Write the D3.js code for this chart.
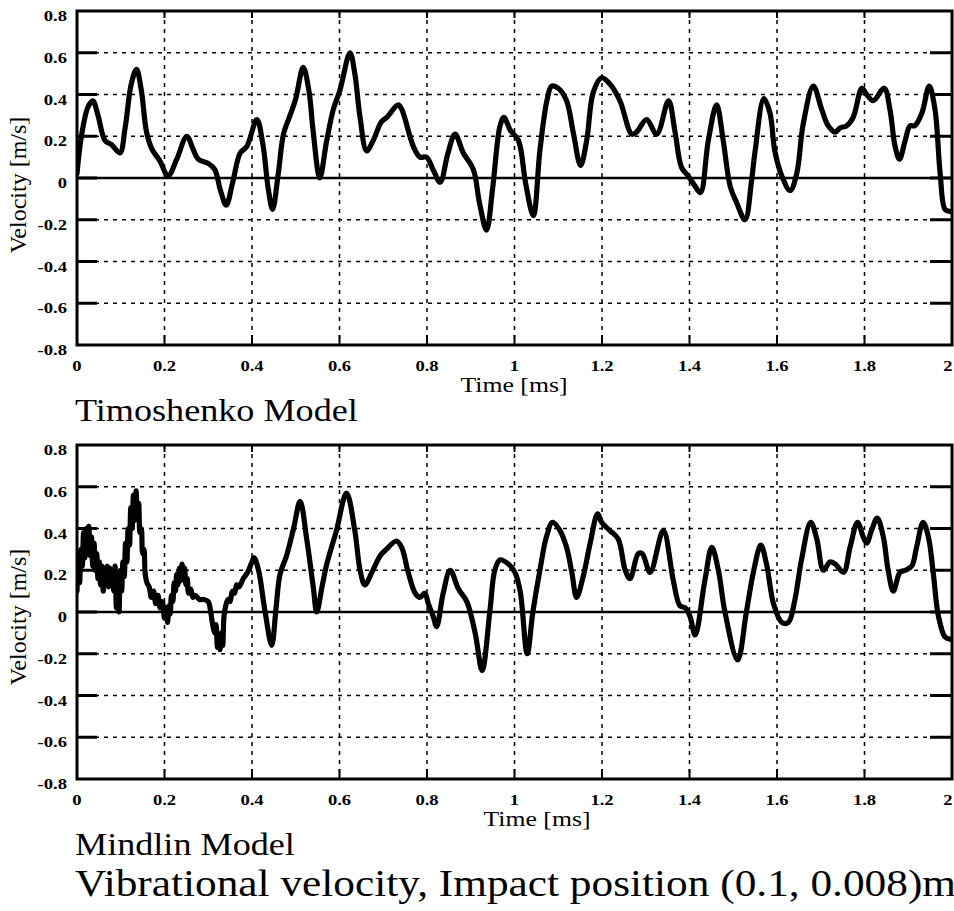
<!DOCTYPE html>
<html>
<head>
<meta charset="utf-8">
<script src="https://cdn.jsdelivr.net/npm/d3@7"></script>
<style>
  body { margin: 0; background: #fff; }
  svg { display: block; }
</style>
</head>
<body>
<div id="chart"></div>
<script>
// axis ticks (same for both panels)
const xTicks = [0, 0.2, 0.4, 0.6, 0.8, 1, 1.2, 1.4, 1.6, 1.8, 2];
const xTickLabels = ["0", "0.2", "0.4", "0.6", "0.8", "1", "1.2", "1.4", "1.6", "1.8", "2"];
const yTicks = [-0.8, -0.6, -0.4, -0.2, 0, 0.2, 0.4, 0.6, 0.8];
const yTickLabels = ["-0.8", "-0.6", "-0.4", "-0.2", "0", "0.2", "0.4", "0.6", "0.8"];

const panelTitles = ["Timoshenko Model", "Mindlin Model"];
const xTitle = "Time [ms]";
const yTitle = "Velocity [m/s]";
const caption = "Vibrational velocity, Impact position (0.1, 0.008)m";

// [time ms, velocity m/s]
const timoshenko = [
  [0.000, 0.02], [0.010, 0.20], [0.025, 0.34], [0.036, 0.37], [0.048, 0.30], [0.064, 0.18],
  [0.079, 0.16], [0.098, 0.12], [0.110, 0.24], [0.124, 0.45], [0.136, 0.52], [0.147, 0.42],
  [0.159, 0.22], [0.171, 0.14], [0.190, 0.08], [0.208, 0.01], [0.228, 0.09], [0.251, 0.20],
  [0.265, 0.14], [0.277, 0.09], [0.300, 0.07], [0.315, 0.04], [0.328, -0.06], [0.341, -0.13],
  [0.356, -0.02], [0.373, 0.12], [0.388, 0.15], [0.411, 0.28], [0.425, 0.16], [0.437, -0.05],
  [0.447, -0.15], [0.460, 0.02], [0.472, 0.21], [0.487, 0.30], [0.500, 0.38], [0.517, 0.53],
  [0.530, 0.42], [0.540, 0.22], [0.555, 0.00], [0.570, 0.17], [0.586, 0.33], [0.601, 0.42],
  [0.624, 0.60], [0.635, 0.50], [0.647, 0.29], [0.662, 0.13], [0.677, 0.18], [0.696, 0.27],
  [0.708, 0.29], [0.734, 0.35], [0.742, 0.33], [0.769, 0.15], [0.784, 0.10], [0.799, 0.10],
  [0.814, 0.04], [0.830, -0.02], [0.848, 0.12], [0.864, 0.21], [0.883, 0.12], [0.906, 0.04],
  [0.920, -0.12], [0.936, -0.25], [0.950, -0.05], [0.967, 0.25], [0.976, 0.29], [0.990, 0.23],
  [1.009, 0.18], [1.025, -0.02], [1.043, -0.18], [1.058, 0.13], [1.074, 0.37], [1.085, 0.44],
  [1.100, 0.43], [1.119, 0.37], [1.135, 0.21], [1.151, 0.06], [1.165, 0.18], [1.180, 0.41],
  [1.199, 0.48], [1.218, 0.45], [1.241, 0.37], [1.268, 0.21], [1.279, 0.22], [1.302, 0.28],
  [1.325, 0.21], [1.352, 0.37], [1.367, 0.22], [1.382, 0.05], [1.397, 0.01], [1.413, -0.04],
  [1.425, -0.07], [1.443, 0.18], [1.462, 0.35], [1.477, 0.18], [1.493, -0.04], [1.508, -0.12],
  [1.527, -0.20], [1.542, -0.01], [1.550, 0.13], [1.570, 0.38], [1.584, 0.31], [1.595, 0.13],
  [1.611, 0.01], [1.630, -0.06], [1.645, 0.02], [1.660, 0.26], [1.683, 0.44], [1.702, 0.33],
  [1.717, 0.25], [1.733, 0.22], [1.744, 0.24], [1.759, 0.25], [1.774, 0.29], [1.794, 0.43],
  [1.805, 0.40], [1.820, 0.37], [1.845, 0.43], [1.858, 0.33], [1.870, 0.15], [1.880, 0.09],
  [1.893, 0.18], [1.904, 0.25], [1.915, 0.25], [1.931, 0.31], [1.948, 0.44], [1.961, 0.33],
  [1.973, 0.02], [1.984, -0.15], [1.995, -0.16]
];

const mindlin = [
  [0.000, 0.10], [0.003, 0.28], [0.006, 0.14], [0.009, 0.30], [0.012, 0.22], [0.015, 0.38],
  [0.018, 0.26], [0.021, 0.40], [0.024, 0.30], [0.027, 0.41], [0.030, 0.27], [0.033, 0.36],
  [0.036, 0.22], [0.039, 0.33], [0.042, 0.20], [0.045, 0.28], [0.048, 0.16], [0.051, 0.24],
  [0.054, 0.13], [0.057, 0.22], [0.060, 0.10], [0.063, 0.21], [0.066, 0.15], [0.069, 0.22],
  [0.072, 0.12], [0.075, 0.21], [0.078, 0.14], [0.081, 0.20], [0.084, 0.10], [0.087, 0.22],
  [0.090, 0.02], [0.093, 0.18], [0.096, 0.00], [0.099, 0.20], [0.102, 0.10], [0.105, 0.24],
  [0.108, 0.17], [0.111, 0.33], [0.114, 0.24], [0.117, 0.40], [0.120, 0.32], [0.123, 0.50],
  [0.126, 0.40], [0.129, 0.56], [0.132, 0.44], [0.135, 0.58], [0.138, 0.46], [0.141, 0.52],
  [0.144, 0.38], [0.147, 0.40], [0.150, 0.28], [0.153, 0.30], [0.156, 0.18], [0.160, 0.14],
  [0.165, 0.12], [0.170, 0.07], [0.175, 0.10], [0.180, 0.04], [0.185, 0.08], [0.190, 0.02],
  [0.195, 0.05], [0.200, -0.03], [0.204, 0.02], [0.207, -0.05], [0.210, 0.03], [0.213, -0.01],
  [0.216, 0.08], [0.219, 0.05], [0.222, 0.14], [0.225, 0.10], [0.228, 0.18], [0.231, 0.13],
  [0.234, 0.21], [0.237, 0.15], [0.240, 0.23], [0.243, 0.17], [0.246, 0.21], [0.249, 0.13],
  [0.252, 0.16], [0.255, 0.09], [0.260, 0.11], [0.265, 0.07], [0.270, 0.08], [0.280, 0.06],
  [0.290, 0.06], [0.300, 0.05], [0.305, 0.01], [0.310, -0.06], [0.315, -0.10], [0.318, -0.06],
  [0.321, -0.17], [0.324, -0.12], [0.327, -0.18], [0.330, -0.10], [0.333, -0.16], [0.336, -0.02],
  [0.340, 0.03], [0.345, 0.06], [0.350, 0.05], [0.355, 0.10], [0.360, 0.09], [0.365, 0.13],
  [0.370, 0.12], [0.380, 0.16], [0.390, 0.19], [0.400, 0.24], [0.405, 0.26], [0.415, 0.20],
  [0.430, 0.00], [0.445, -0.16], [0.455, 0.02], [0.464, 0.18], [0.479, 0.27], [0.495, 0.40],
  [0.510, 0.53], [0.525, 0.35], [0.540, 0.12], [0.548, 0.00], [0.560, 0.12], [0.571, 0.23],
  [0.593, 0.39], [0.616, 0.57], [0.635, 0.39], [0.647, 0.20], [0.658, 0.13], [0.674, 0.19],
  [0.693, 0.27], [0.707, 0.30], [0.730, 0.34], [0.742, 0.31], [0.757, 0.19], [0.773, 0.09],
  [0.784, 0.07], [0.795, 0.09], [0.803, 0.04], [0.814, -0.02], [0.822, -0.07], [0.837, 0.09],
  [0.853, 0.20], [0.872, 0.11], [0.891, 0.05], [0.910, -0.10], [0.926, -0.28], [0.944, 0.01],
  [0.955, 0.20], [0.967, 0.25], [0.986, 0.23], [1.001, 0.19], [1.013, 0.10], [1.029, -0.20],
  [1.042, 0.00], [1.058, 0.20], [1.073, 0.36], [1.087, 0.43], [1.104, 0.39], [1.119, 0.31],
  [1.131, 0.19], [1.142, 0.07], [1.157, 0.17], [1.173, 0.33], [1.190, 0.47], [1.199, 0.43],
  [1.218, 0.39], [1.237, 0.35], [1.253, 0.20], [1.264, 0.16], [1.283, 0.28], [1.292, 0.28],
  [1.310, 0.19], [1.340, 0.39], [1.363, 0.15], [1.378, 0.03], [1.390, 0.02], [1.401, -0.02],
  [1.413, -0.11], [1.435, 0.15], [1.451, 0.31], [1.466, 0.20], [1.481, 0.00], [1.510, -0.23],
  [1.530, 0.00], [1.546, 0.19], [1.563, 0.32], [1.576, 0.23], [1.592, 0.04], [1.611, -0.05],
  [1.626, -0.05], [1.641, 0.06], [1.656, 0.25], [1.677, 0.43], [1.691, 0.35], [1.706, 0.20],
  [1.721, 0.24], [1.733, 0.23], [1.752, 0.19], [1.767, 0.31], [1.784, 0.43], [1.797, 0.36],
  [1.805, 0.33], [1.816, 0.39], [1.829, 0.45], [1.843, 0.36], [1.854, 0.20], [1.866, 0.10],
  [1.881, 0.19], [1.893, 0.20], [1.908, 0.22], [1.919, 0.31], [1.934, 0.43], [1.946, 0.36],
  [1.957, 0.19], [1.969, -0.02], [1.984, -0.12], [1.995, -0.13]
];

const width = 954, height = 911;
const serif = "'Liberation Serif', 'Times New Roman', 'DejaVu Serif', serif";

const svg = d3.select("#chart").append("svg")
  .attr("width", width)
  .attr("height", height);

svg.append("rect").attr("width", width).attr("height", height).attr("fill", "#fff");

const x = d3.scaleLinear().domain([0, 2]).range([77, 952]);

// helper: text that is a bit wider than the font (the scan is stretched sideways)
function label(g, str, px, py, opts) {
  return g.append("text")
    .attr("transform", `translate(${px},${py}) scale(${opts.sx || 1},1)`)
    .attr("text-anchor", opts.anchor || "start")
    .attr("font-family", serif)
    .attr("font-size", opts.size)
    .attr("font-weight", opts.weight || "normal")
    .attr("fill", "#000")
    .text(str);
}

function drawPanel(data, idx, cfg) {
  const y = d3.scaleLinear().domain([-0.8, 0.8]).range([cfg.bottom, cfg.top]);
  const g = svg.append("g");
  const x0 = x.range()[0], x1 = x.range()[1];

  // grid
  g.selectAll(".vgrid")
    .data(xTicks.filter(d => d > 0 && d < 2))
    .enter().append("line")
    .attr("x1", d => x(d)).attr("x2", d => x(d))
    .attr("y1", cfg.top).attr("y2", cfg.bottom)
    .attr("stroke", "#000").attr("stroke-width", 1.5)
    .attr("stroke-dasharray", "4,5");

  g.selectAll(".hgrid")
    .data(yTicks.filter(d => d !== 0 && Math.abs(d) < 0.8))
    .enter().append("line")
    .attr("x1", x0).attr("x2", x1)
    .attr("y1", d => y(d)).attr("y2", d => y(d))
    .attr("stroke", "#000").attr("stroke-width", 1.5)
    .attr("stroke-dasharray", "4,5");

  // zero line
  g.append("line")
    .attr("x1", x0).attr("x2", x1)
    .attr("y1", y(0)).attr("y2", y(0))
    .attr("stroke", "#000").attr("stroke-width", 2.5);

  // curve
  const clipId = "clip" + idx;
  g.append("clipPath").attr("id", clipId)
    .append("rect")
    .attr("x", x0).attr("y", cfg.top - 2)
    .attr("width", x1 - x0).attr("height", cfg.bottom - cfg.top + 4);

  const line = d3.line()
    .x(d => x(d[0]))
    .y(d => y(d[1]))
    .curve(d3.curveCatmullRom.alpha(0.5));

  g.append("path")
    .datum(data)
    .attr("clip-path", `url(#${clipId})`)
    .attr("d", line)
    .attr("fill", "none")
    .attr("stroke", "#000")
    .attr("stroke-width", 5.2)
    .attr("stroke-linejoin", "round")
    .attr("stroke-linecap", "round");

  // frame
  g.append("rect")
    .attr("x", x0).attr("y", cfg.top)
    .attr("width", x1 - x0).attr("height", cfg.bottom - cfg.top)
    .attr("fill", "none").attr("stroke", "#000").attr("stroke-width", 3);

  // ticks
  const inner = yTicks.filter(d => Math.abs(d) < 0.8);
  g.selectAll(".ltick").data(inner).enter().append("line")
    .attr("x1", x0).attr("x2", x0 + 20)
    .attr("y1", d => y(d)).attr("y2", d => y(d))
    .attr("stroke", "#000").attr("stroke-width", 3);
  g.selectAll(".rtick").data(inner).enter().append("line")
    .attr("x1", x1 - 22).attr("x2", x1)
    .attr("y1", d => y(d)).attr("y2", d => y(d))
    .attr("stroke", "#000").attr("stroke-width", 3);
  const innerX = xTicks.filter(d => d > 0 && d < 2);
  g.selectAll(".btick").data(innerX).enter().append("line")
    .attr("x1", d => x(d)).attr("x2", d => x(d))
    .attr("y1", cfg.bottom).attr("y2", cfg.bottom - 10)
    .attr("stroke", "#000").attr("stroke-width", 2);
  g.selectAll(".ttick").data(innerX).enter().append("line")
    .attr("x1", d => x(d)).attr("x2", d => x(d))
    .attr("y1", cfg.top).attr("y2", cfg.top + 7)
    .attr("stroke", "#000").attr("stroke-width", 2);

  // tick labels
  yTicks.forEach((d, i) => {
    label(g, yTickLabels[i], 67, y(d) + 10, { size: 15.5, weight: "bold", anchor: "end", sx: 1.2 });
  });
  xTicks.forEach((d, i) => {
    // last label pulled in so it stays on the page, as in the scan
    const px = d === 2 ? x(d) - 4 : x(d);
    label(g, xTickLabels[i], px, cfg.bottom + 26, { size: 15.5, weight: "bold", anchor: "middle", sx: 1.2 });
  });

  // axis titles
  label(g, xTitle, cfg.timeX, cfg.bottom + 47, { size: 22, anchor: "middle", sx: 1.17 });
  g.append("text")
    .attr("transform", `translate(26,${cfg.velY}) rotate(-90)`)
    .attr("text-anchor", "middle")
    .attr("font-family", serif)
    .attr("font-size", 24)
    .text(yTitle);

  // panel title
  label(g, panelTitles[idx], 75, cfg.bottom + 76, { size: 32, sx: 1.13 });
}

drawPanel(timoshenko, 0, { top: 11, bottom: 345, timeX: 514, velY: 185 });
drawPanel(mindlin, 1, { top: 445, bottom: 779, timeX: 537, velY: 617 });

label(svg, caption, 75, 896, { size: 38, sx: 1.14 });
</script>
</body>
</html>
